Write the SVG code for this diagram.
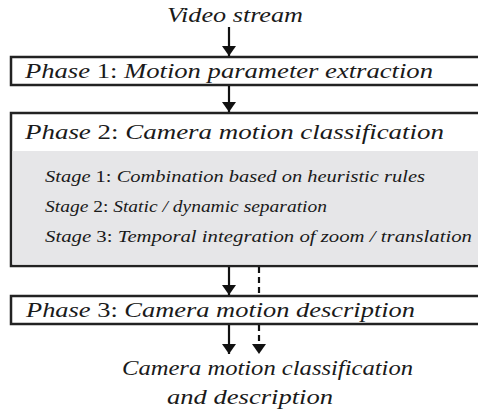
<svg xmlns="http://www.w3.org/2000/svg" width="478" height="417" viewBox="0 0 478 417">
<style>
.t{font-family:"Liberation Serif","DejaVu Serif",serif;font-style:italic;fill:#1a1a1a}
.u{font-style:normal}
.big{font-size:21px}
.sm{font-size:17px}
.box{fill:#fff;stroke:#222;stroke-width:2.5}
.gray{fill:#e6e6e8}
.ln{stroke:#111;stroke-width:2.2;fill:none}
.dash{stroke:#111;stroke-width:2.2;fill:none;stroke-dasharray:6,4}
</style>
<defs>
<marker id="ah" viewBox="0 0 10 14" refX="10" refY="7" markerWidth="10" markerHeight="14" markerUnits="userSpaceOnUse" orient="auto">
<path d="M0,0 L10,7 L0,14 Z" fill="#111"/>
</marker>
</defs>
<text class="t big" x="167" y="22" textLength="136" lengthAdjust="spacingAndGlyphs">Video stream</text>
<g id="phase1">
<rect class="box" x="11" y="57" width="480" height="28"/>
<text class="t big" x="25" y="78" textLength="408" lengthAdjust="spacingAndGlyphs">Phase <tspan class="u">1:</tspan> Motion parameter extraction</text>
</g>
<g id="phase2">
<rect class="box" x="11" y="113" width="480" height="153"/>
<rect class="gray" x="12.5" y="151" width="478" height="113.5"/>
<text class="t big" x="25" y="139" textLength="419" lengthAdjust="spacingAndGlyphs">Phase <tspan class="u">2:</tspan> Camera motion classification</text>
<text class="t sm" x="45" y="182" textLength="380" lengthAdjust="spacingAndGlyphs">Stage <tspan class="u">1:</tspan> Combination based on heuristic rules</text>
<text class="t sm" x="45" y="212" textLength="282" lengthAdjust="spacingAndGlyphs">Stage <tspan class="u">2:</tspan> Static / dynamic separation</text>
<text class="t sm" x="45" y="242" textLength="427" lengthAdjust="spacingAndGlyphs">Stage <tspan class="u">3:</tspan> Temporal integration of zoom / translation</text>
</g>
<g id="phase3">
<rect class="box" x="11" y="296" width="480" height="28"/>
<text class="t big" x="26" y="317" textLength="389" lengthAdjust="spacingAndGlyphs">Phase <tspan class="u">3:</tspan> Camera motion description</text>
</g>
<text class="t big" x="122" y="375" textLength="291" lengthAdjust="spacingAndGlyphs">Camera motion classification</text>
<text class="t big" x="167" y="404" textLength="166" lengthAdjust="spacingAndGlyphs">and description</text>
<g id="connectors">
<line class="ln" x1="229" y1="27" x2="229" y2="56" marker-end="url(#ah)"/>
<line class="ln" x1="229" y1="86" x2="229" y2="112" marker-end="url(#ah)"/>
<line class="ln" x1="229" y1="267" x2="229" y2="295" marker-end="url(#ah)"/>
<line class="dash" x1="259" y1="267" x2="259" y2="295"/>
<line class="ln" x1="229" y1="325" x2="229" y2="354" marker-end="url(#ah)"/>
<line class="dash" x1="259" y1="325" x2="259" y2="354" marker-end="url(#ah)"/>
</g>
</svg>
